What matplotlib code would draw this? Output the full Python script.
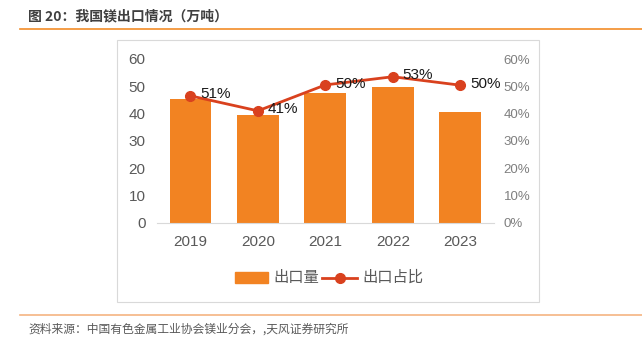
import matplotlib
matplotlib.use("Agg")
import matplotlib.pyplot as plt
from matplotlib.patches import Rectangle
from matplotlib.lines import Line2D

plt.rcParams['font.family'] = ['Noto Sans CJK SC', 'DejaVu Sans']

years = ["2019", "2020", "2021", "2022", "2023"]
export_vol = [45.2, 39.4, 47.7, 49.7, 40.6]
export_ratio = [46.5, 41.0, 50.5, 53.5, 50.4]
ratio_labels = ["51%", "41%", "50%", "53%", "50%"]
left_ticks = [0, 10, 20, 30, 40, 50, 60]
right_ticks = [0, 10, 20, 30, 40, 50, 60]

W, H = 642, 346
fig = plt.figure(figsize=(W/100, H/100), dpi=100)
NUM = ['Liberation Sans', 'DejaVu Sans']

def fx(px): return px / W
def fy(py): return 1 - py / H

# title and rules
fig.text(fx(28), fy(16), "图 20：我国镁出口情况（万吨）", fontsize=10, fontweight='bold',
         color='#404040', va='center', ha='left')
fig.add_artist(Line2D([fx(20), fx(642)], [fy(28.5), fy(28.5)], color='#F28C28', lw=1.2))
fig.add_artist(Line2D([fx(20), fx(642)], [fy(314.5), fy(314.5)], color='#F5B482', lw=1.2))
fig.text(fx(28), fy(329), "资料来源：中国有色金属工业协会镁业分会，,天风证券研究所", fontsize=8.5,
         color='#595959', va='center', ha='left')

# outer frame
fig.add_artist(Rectangle((fx(117), fy(302)), fx(539) - fx(117), fy(40) - fy(302),
                         fill=False, edgecolor='#D9D9D9', lw=0.8))

ax = fig.add_axes([fx(156.7), fy(222.7), fx(494) - fx(156.7), fy(59) - fy(222.7)])
x = list(range(len(years)))
ax.bar(x, export_vol, width=0.62, color='#F28322', zorder=2)
ax.set_xlim(-0.5, len(years) - 0.5)
ax.set_ylim(0, 60)
ax.set_yticks(left_ticks)
ax.set_yticklabels([str(t) for t in left_ticks], family=NUM)
ax.set_xticks(x)
ax.set_xticklabels(years, family=NUM)
ax.tick_params(axis='both', length=0, labelsize=11, colors='#595959')
ax.tick_params(axis='y', pad=8)
ax.tick_params(axis='x', pad=9)
for s in ['top', 'right', 'left']:
    ax.spines[s].set_visible(False)
ax.spines['bottom'].set_color('#D9D9D9')

ax2 = ax.twinx()
ax2.plot(x, export_ratio, color='#D9411E', lw=2, marker='o', markersize=7, zorder=3)
ax2.set_ylim(0, 60)
ax2.set_yticks(right_ticks)
ax2.set_yticklabels([f"{t}%" for t in right_ticks], family=NUM)
ax2.tick_params(axis='y', length=0, labelsize=9.5, colors='#7F7F7F', pad=7)
for s in ['top', 'right', 'left', 'bottom']:
    ax2.spines[s].set_visible(False)
for xi, yv, lab in zip(x, export_ratio, ratio_labels):
    ax2.annotate(lab, (xi, yv), xytext=(7, 1), textcoords='offset points',
                 fontsize=11, color='#1a1a1a', ha='left', va='center', family=NUM)

# legend
fig.add_artist(Rectangle((fx(235), fy(283)), fx(268) - fx(235), fy(272) - fy(283),
                         color='#F28322'))
fig.text(fx(273), fy(277.5), "出口量", fontsize=11, color='#595959', va='center', ha='left')
fig.add_artist(Line2D([fx(322), fx(357)], [fy(277.5), fy(277.5)], color='#D9411E', lw=2))
fig.add_artist(Line2D([fx(339.5)], [fy(277.5)], color='#D9411E', marker='o', markersize=7))
fig.text(fx(362), fy(277.5), "出口占比", fontsize=11, color='#595959', va='center', ha='left')

fig.savefig("out.png", dpi=100)
